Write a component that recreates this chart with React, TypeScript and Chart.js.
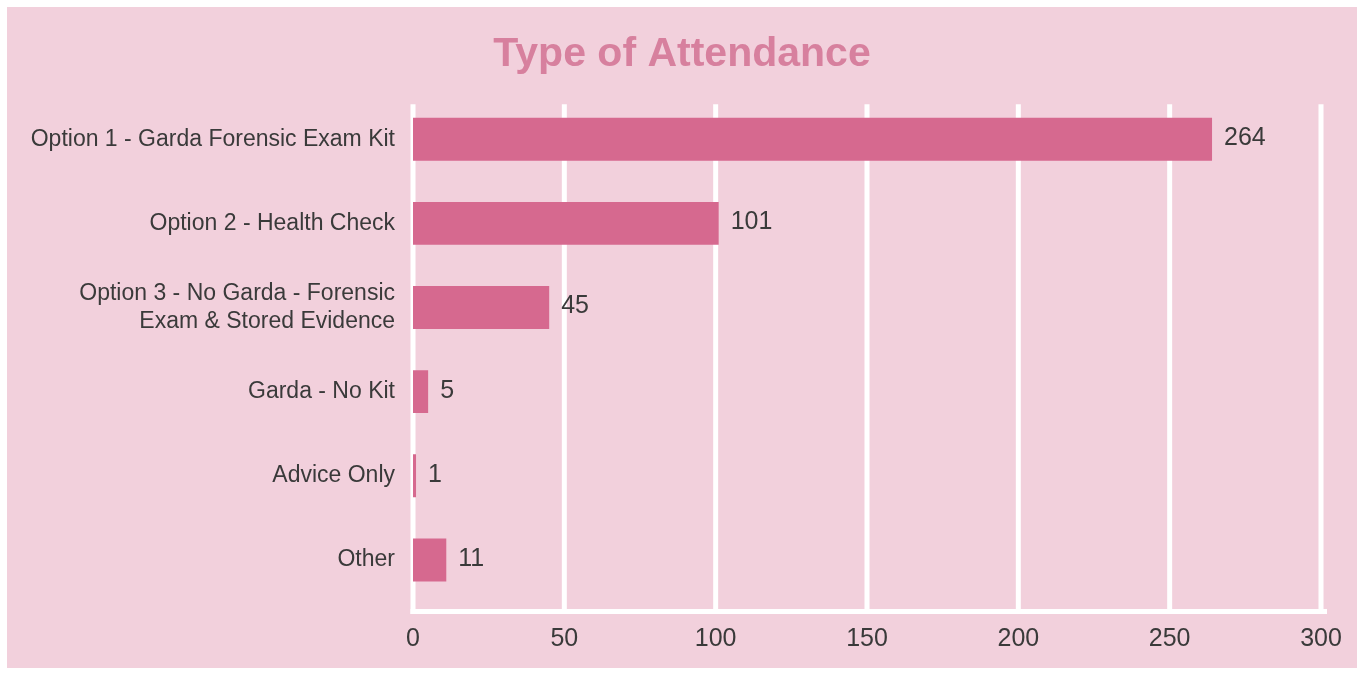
import React, { useEffect, useRef } from "react";
import { Chart, registerables } from "chart.js";

Chart.register(...registerables);

const categories: (string | string[])[] = [
  "Option 1 - Garda Forensic Exam Kit",
  "Option 2 - Health Check",
  ["Option 3 - No Garda - Forensic", "Exam & Stored Evidence"],
  "Garda - No Kit",
  "Advice Only",
  "Other",
];
const attendance = [264, 101, 45, 5, 1, 11];
const xTicks = [0, 50, 100, 150, 200, 250, 300];
const titleText = "Type of Attendance";

const BG = "#f2d0dc";
const BAR = "#d6698f";
const TEXT = "#3a3a3a";
const TITLE = "#d7809e";
const FONT = "'Liberation Sans', Arial, Helvetica, sans-serif";

export default function App() {
  const ref = useRef<HTMLCanvasElement | null>(null);

  useEffect(() => {
    if (!ref.current) return;

    const gridPlugin = {
      id: "shiftedGrid",
      beforeDatasetsDraw(chart: any) {
        const { ctx, chartArea, scales } = chart;
        const x = scales.x;
        const shift = 7;
        ctx.save();
        ctx.strokeStyle = "#ffffff";
        ctx.lineWidth = 5;
        for (const t of xTicks) {
          const px = x.getPixelForValue(t);
          ctx.beginPath();
          ctx.moveTo(px, chartArea.top + shift);
          ctx.lineTo(px, chartArea.bottom + shift + 5);
          ctx.stroke();
        }
        ctx.beginPath();
        const y = chartArea.bottom + shift + 2.5;
        ctx.moveTo(x.getPixelForValue(xTicks[0]) - 2.5, y);
        ctx.lineTo(x.getPixelForValue(xTicks[xTicks.length - 1]) + 6, y);
        ctx.stroke();
        ctx.restore();
      },
    };

    const valuePlugin = {
      id: "valueLabels",
      afterDatasetsDraw(chart: any) {
        const { ctx } = chart;
        const meta = chart.getDatasetMeta(0);
        ctx.save();
        ctx.fillStyle = TEXT;
        ctx.font = `25px ${FONT}`;
        ctx.textAlign = "left";
        ctx.textBaseline = "middle";
        meta.data.forEach((bar: any, i: number) => {
          ctx.fillText(String(attendance[i]), bar.x + 12, bar.y - 1);
        });
        ctx.restore();
      },
    };

    const chart = new Chart(ref.current, {
      type: "bar",
      data: {
        labels: categories,
        datasets: [
          {
            data: attendance,
            backgroundColor: BAR,
            borderWidth: 0,
            categoryPercentage: 1,
            barPercentage: 0.51,
          },
        ],
      },
      options: {
        indexAxis: "y",
        animation: false,
        responsive: false,
        maintainAspectRatio: false,
        layout: { padding: 0 },
        plugins: {
          legend: { display: false },
          tooltip: { enabled: false },
          title: {
            display: true,
            text: titleText,
            color: TITLE,
            font: { family: FONT, size: 41, weight: "bold", lineHeight: 1.2 },
            padding: { top: 23, bottom: 18 },
          },
        },
        scales: {
          x: {
            type: "linear",
            min: 0,
            max: 300,
            afterBuildTicks(scale: any) {
              scale.ticks = xTicks.map((v) => ({ value: v }));
            },
            afterFit(scale: any) {
              scale.height = 66;
              scale.paddingRight = 36;
            },
            grid: { display: false, drawTicks: false },
            border: { display: false },
            ticks: {
              color: TEXT,
              font: { family: FONT, size: 25 },
              padding: 22,
              maxRotation: 0,
            },
          },
          y: {
            afterFit(scale: any) {
              scale.width = 406;
            },
            grid: { display: false, drawTicks: false },
            border: { display: false },
            ticks: {
              color: TEXT,
              font: { family: FONT, size: 23, lineHeight: 1.2 },
              padding: 18,
            },
          },
        },
      },
      plugins: [gridPlugin, valuePlugin],
    });

    return () => chart.destroy();
  }, []);

  return (
    <div
      style={{
        position: "fixed",
        left: 7,
        top: 7,
        width: 1350,
        height: 661,
        background: BG,
      }}
    >
      <canvas ref={ref} width={1350} height={661} style={{ display: "block" }} />
    </div>
  );
}
